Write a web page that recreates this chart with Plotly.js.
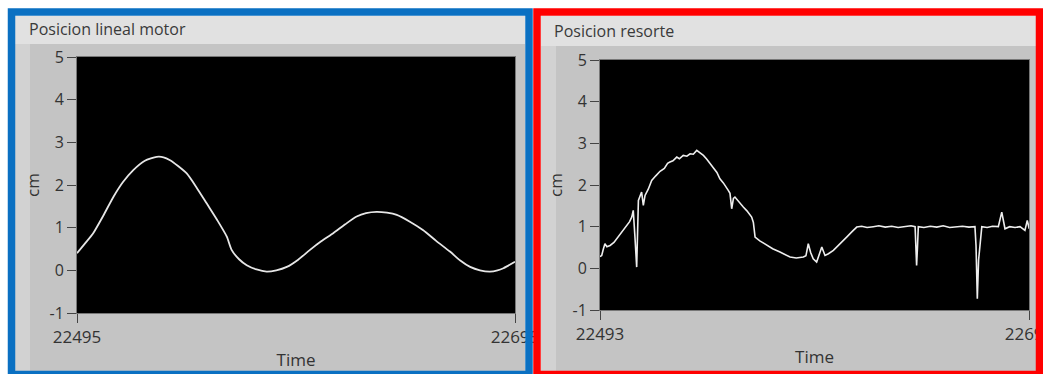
<!DOCTYPE html>
<html>
<head>
<meta charset="utf-8">
<script src="https://cdn.plot.ly/plotly-3.0.1.min.js"></script>
<style>
  html, body { margin: 0; padding: 0; background: #ffffff; }
  #chart { width: 1043px; height: 374px; }
</style>
</head>
<body>
<div id="chart"></div>
<script>
// ---- Data ----
const panelTitles = ['Posicion lineal motor', 'Posicion resorte'];
const yTitle = 'cm';
const xTitle = 'Time';
const yTickVals = [-1, 0, 1, 2, 3, 4, 5];
const yTickText = ['-1', '0', '1', '2', '3', '4', '5'];

const xTickMotor = [22495, 22695];
const xTickMotorText = ['22495', '22695'];
const xTickResorte = [22493, 22693];
const xTickResorteText = ['22493', '22693'];

const timeMotor = [22495.0, 22498.5, 22502.4, 22507.0, 22511.6, 22516.0, 22520.7, 22526.0, 22531.4, 22534.5,
  22537.5, 22541.0, 22545.1, 22549.5, 22554.2, 22559.0, 22563.4, 22565.6, 22569.0, 22572.5,
  22577.0, 22581.6, 22586.0, 22590.8, 22596.0, 22601.4, 22606.5, 22612.0, 22617.5, 22622.7,
  22627.0, 22631.8, 22636.5, 22641.0, 22647.0, 22653.1, 22659.0, 22665.3, 22670.0, 22674.5,
  22679.0, 22683.6, 22687.0, 22689.7, 22695.0];
const posMotor = [0.40, 0.62, 0.87, 1.28, 1.72, 2.07, 2.35, 2.57, 2.66, 2.65,
  2.58, 2.45, 2.27, 1.95, 1.57, 1.18, 0.79, 0.48, 0.26, 0.12,
  0.02, -0.03, 0.00, 0.08, 0.25, 0.48, 0.68, 0.87, 1.08, 1.26,
  1.34, 1.37, 1.35, 1.30, 1.14, 0.94, 0.69, 0.44, 0.23, 0.08,
  0.00, -0.03, 0.00, 0.05, 0.20];

const timeResorte = [22493.0, 22493.8, 22494.5, 22495.3, 22496.2, 22497.7, 22499.5, 22501.5, 22503.9, 22505.5,
  22506.8, 22507.8, 22508.5, 22509.3, 22510.1, 22510.9, 22512.4, 22513.2, 22514.0, 22515.5,
  22517.1, 22519.0, 22521.0, 22523.0, 22524.5, 22525.6, 22527.0, 22528.8, 22530.0, 22531.8,
  22533.5, 22535.0, 22536.5, 22538.1, 22539.5, 22541.2, 22542.8, 22544.3, 22546.0, 22547.5,
  22548.9, 22550.5, 22552.8, 22553.6, 22554.4, 22555.2, 22555.9, 22557.5, 22559.8, 22561.5,
  22563.7, 22564.5, 22565.3, 22567.5, 22570.7, 22573.5, 22576.9, 22579.0, 22581.6, 22584.5,
  22587.8, 22589.0, 22590.1, 22591.2, 22592.4, 22594.0, 22595.3, 22596.4, 22597.9, 22599.5,
  22601.8, 22604.5, 22608.0, 22610.5, 22612.7, 22615.0, 22617.5, 22620.4, 22623.0, 22626.0,
  22629.0, 22632.0, 22635.0, 22638.0, 22639.9, 22640.3, 22640.6, 22641.0, 22641.4, 22644.0,
  22647.0, 22650.0, 22653.0, 22656.0, 22659.0, 22662.0, 22665.0, 22667.8, 22668.3, 22668.9,
  22669.5, 22670.2, 22671.0, 22673.5, 22676.0, 22678.7, 22680.3, 22681.8, 22684.0, 22686.5,
  22688.8, 22691.1, 22692.2, 22693.1];
const posResorte = [0.28, 0.31, 0.45, 0.59, 0.52, 0.55, 0.62, 0.75, 0.91, 1.02,
  1.12, 1.23, 1.39, 0.75, 0.03, 1.63, 1.83, 1.51, 1.75, 1.90,
  2.11, 2.22, 2.33, 2.40, 2.52, 2.55, 2.58, 2.67, 2.63, 2.71,
  2.69, 2.75, 2.74, 2.83, 2.78, 2.71, 2.62, 2.51, 2.38, 2.30,
  2.15, 2.05, 1.87, 1.80, 1.43, 1.68, 1.71, 1.60, 1.47, 1.38,
  1.23, 1.10, 0.75, 0.66, 0.55, 0.47, 0.39, 0.33, 0.27, 0.25,
  0.27, 0.30, 0.59, 0.38, 0.23, 0.15, 0.32, 0.51, 0.31, 0.35,
  0.43, 0.58, 0.75, 0.88, 0.99, 1.01, 0.98, 1.00, 1.02, 0.99,
  1.01, 0.98, 1.00, 1.02, 1.00, 0.55, 0.07, 0.50, 1.00, 0.98,
  1.01, 0.99, 1.02, 0.98, 1.00, 1.01, 0.99, 1.00, 0.55, -0.73,
  0.20, 0.60, 1.00, 0.98, 1.01, 1.00, 1.35, 0.95, 1.00, 0.98,
  1.00, 0.91, 1.15, 0.95];

// ---- Layout helpers (pixel -> paper, margins are 0) ----
const W = 1043, H = 374;
const px = v => v / W;
const py = v => 1 - v / H;
const FONT = 'Segoe UI, Open Sans, sans-serif';

function rectFill(x0, y0, x1, y1, color, layer) {
  return { type: 'rect', xref: 'paper', yref: 'paper', x0: px(x0), x1: px(x1), y0: py(y1), y1: py(y0),
    fillcolor: color, line: { width: 0 }, layer: layer || 'below' };
}
function rectLine(x0, y0, x1, y1, color, w) {
  return { type: 'rect', xref: 'paper', yref: 'paper', x0: px(x0), x1: px(x1), y0: py(y1), y1: py(y0),
    fillcolor: 'rgba(0,0,0,0)', line: { color: color, width: w }, layer: 'above' };
}

const plotL = [77, 57, 515, 313];
const plotR = [600, 60, 1029, 310];

const shapes = [
  // left panel background
  rectFill(15, 16, 525, 372, '#c4c4c4'),
  rectFill(15, 16, 525, 44, '#e1e1e1'),
  rectFill(15, 44, 30, 372, '#d2d2d2'),
  // right panel background
  rectFill(541, 16, 1036, 372, '#c4c4c4'),
  rectFill(541, 16, 1036, 46, '#e1e1e1'),
  rectFill(541, 46, 556, 372, '#d2d2d2'),
  // black plotting areas
  rectFill(plotL[0], plotL[1], plotL[2], plotL[3], '#000000'),
  rectFill(plotR[0], plotR[1], plotR[2], plotR[3], '#000000'),
  // coloured frames
  rectLine(11.5, 12, 529, 374.5, '#0a70c2', 7.5),
  rectLine(537, 12, 1039.5, 374.5, '#ff0000', 7.5)
];

const annotations = [
  { text: panelTitles[0], xref: 'paper', yref: 'paper', x: px(27), y: py(29), xanchor: 'left', yanchor: 'middle',
    showarrow: false, font: { family: FONT, size: 16, color: '#3a3a3a' } },
  { text: panelTitles[1], xref: 'paper', yref: 'paper', x: px(552), y: py(31), xanchor: 'left', yanchor: 'middle',
    showarrow: false, font: { family: FONT, size: 16, color: '#3a3a3a' } }
];

function yAxis(domain, anchor) {
  return {
    domain: domain, anchor: anchor, range: [-1, 5], tickvals: yTickVals, ticktext: yTickText,
    ticks: 'outside', ticklen: 9, tickwidth: 1, tickcolor: '#444',
    showgrid: false, zeroline: false, showline: true, mirror: true, linecolor: '#777', linewidth: 1,
    tickfont: { family: FONT, size: 16, color: '#333' },
    title: { text: yTitle, standoff: 5, font: { family: FONT, size: 17, color: '#333' } },
    fixedrange: true
  };
}
function xAxis(domain, anchor, range, vals, text) {
  return {
    domain: domain, anchor: anchor, range: range, tickvals: vals, ticktext: text,
    ticklabeloverflow: 'allow',
    ticks: 'outside', ticklen: 9, tickwidth: 1, tickcolor: '#444',
    showgrid: false, zeroline: false, showline: true, mirror: true, linecolor: '#777', linewidth: 1,
    tickfont: { family: FONT, size: 17, color: '#333' },
    title: { text: xTitle, standoff: 6, font: { family: FONT, size: 17, color: '#333' } },
    fixedrange: true
  };
}

const traces = [
  { x: timeMotor, y: posMotor, xaxis: 'x', yaxis: 'y', type: 'scatter', mode: 'lines',
    line: { color: '#e6e6e6', width: 1.8, shape: 'spline', smoothing: 0.6 }, hoverinfo: 'skip' },
  { x: timeResorte, y: posResorte, xaxis: 'x2', yaxis: 'y2', type: 'scatter', mode: 'lines',
    line: { color: '#eeeeee', width: 1.6 }, hoverinfo: 'skip' }
];

const layout = {
  width: W, height: H,
  margin: { l: 0, r: 0, t: 0, b: 0, pad: 0 },
  paper_bgcolor: '#ffffff', plot_bgcolor: '#000000',
  showlegend: false,
  xaxis: xAxis([px(plotL[0]), px(plotL[2])], 'y', [22495, 22695], xTickMotor, xTickMotorText),
  yaxis: yAxis([py(plotL[3]), py(plotL[1])], 'x'),
  xaxis2: xAxis([px(plotR[0]), px(plotR[2])], 'y2', [22493, 22693], xTickResorte, xTickResorteText),
  yaxis2: yAxis([py(plotR[3]), py(plotR[1])], 'x2'),
  shapes: shapes,
  annotations: annotations
};

Plotly.newPlot('chart', traces, layout, { staticPlot: true, displayModeBar: false });
</script>
</body>
</html>
